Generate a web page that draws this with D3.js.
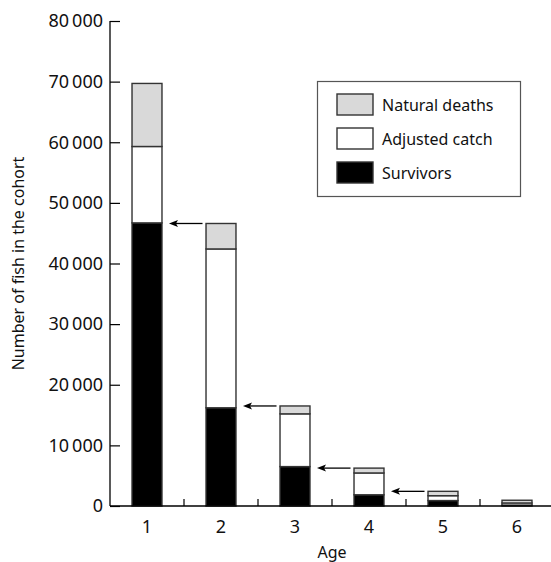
<!DOCTYPE html>
<html><head><meta charset="utf-8">
<script src="https://cdn.jsdelivr.net/npm/d3@7"></script>
<style>body{margin:0;background:#fff}svg{display:block;font-family:"Noto Sans",sans-serif}</style>
</head><body><svg id="c" width="551" height="562"></svg>
<script>
const ages = ["1","2","3","4","5","6"];
const survivors = [46700, 16200, 6500, 1850, 900, 150];
const adjustedCatch = [12600, 26200, 8700, 3600, 800, 350];
const naturalDeaths = [10400, 4200, 1300, 800, 720, 450];
const yTicks = [0,10000,20000,30000,40000,50000,60000,70000,80000];
const seriesNames = ["Natural deaths","Adjusted catch","Survivors"];
const seriesColors = ["#d9d9d9","#ffffff","#000000"];

const svg = d3.select("#c");
const m = {l:110, t:21, r:-3, b:56};
const W = 551 - m.l - m.r, H = 562 - m.t - m.b;
const x = d3.scaleBand().domain(ages).range([m.l, m.l+W]).paddingInner(0.595).paddingOuter(0.2975);
const y = d3.scaleLinear().domain([0,80000]).range([m.t+H, m.t]);

const rows = ages.map((a,i)=>({age:a, Survivors:survivors[i], "Adjusted catch":adjustedCatch[i], "Natural deaths":naturalDeaths[i]}));
const stack = d3.stack().keys(["Survivors","Adjusted catch","Natural deaths"])(rows);
const color = d3.scaleOrdinal().domain(seriesNames).range(seriesColors);

svg.append("g").selectAll("g").data(stack).join("g")
  .attr("fill", d=>color(d.key))
  .selectAll("rect").data(d=>d).join("rect")
  .attr("x", d=>x(d.data.age)).attr("width", x.bandwidth())
  .attr("y", d=>y(d[1])).attr("height", d=>y(d[0])-y(d[1]))
  .attr("stroke","#333").attr("stroke-width",1.4);

// arrows
const defs = svg.append("defs");
defs.append("marker").attr("id","ah").attr("viewBox","0 0 10 8").attr("refX",0).attr("refY",4)
  .attr("markerWidth",10).attr("markerHeight",8).attr("markerUnits","userSpaceOnUse").attr("orient","auto-start-reverse")
  .append("path").attr("d","M0,4 L10,0 L7,4 L10,8 Z").attr("fill","#000");
const totals = rows.map(r=>r.Survivors+r["Adjusted catch"]+r["Natural deaths"]);
for (let i=0;i<4;i++){
  const yy = y(totals[i+1]);
  svg.append("line")
    .attr("x1", x(ages[i+1])-3.5).attr("x2", x(ages[i])+x.bandwidth()+7)
    .attr("y1", yy).attr("y2", yy).attr("stroke","#000").attr("stroke-width",1.3)
    .attr("marker-end","url(#ah)");
}
svg.selectAll("line[marker-end]").attr("marker-end",null).attr("marker-start",null);
svg.selectAll("line").each(function(){
  const l=d3.select(this); const x2=+l.attr("x2"), yy=+l.attr("y1");
  l.attr("x2", x2+6);
  svg.append("path").attr("d",`M${x2},${yy} L${x2+9},${yy-3.5} L${x2+7},${yy} L${x2+9},${yy+3.5} Z`).attr("fill","#000");
});

// y axis
const fmt = v => v===0 ? "0" : d3.format(",")(v).replace(",", "\u2009");
const ya = svg.append("g").attr("transform",`translate(${m.l},0)`)
  .call(d3.axisRight(y).tickValues(yTicks).tickSize(10).tickFormat(fmt));
ya.select(".domain").remove();
ya.selectAll("line").attr("stroke","#000").attr("stroke-width",1.2);
ya.selectAll("text").attr("x",-7).attr("text-anchor","end").attr("font-size",18).attr("fill","#111").attr("font-family","Noto Sans");
svg.append("line").attr("x1",m.l).attr("x2",m.l).attr("y1",y(80000)).attr("y2",y(0)).attr("stroke","#000").attr("stroke-width",1.3);

// x axis
const xa = svg.append("g").attr("transform",`translate(0,${y(0)})`)
  .call(d3.axisBottom(x).tickSize(0).tickPadding(14));
xa.select(".domain").remove();
xa.selectAll("text").attr("font-size",18).attr("fill","#111").attr("font-family","Noto Sans");
svg.append("line").attr("x1",m.l).attr("x2",551).attr("y1",y(0)).attr("y2",y(0)).attr("stroke","#000").attr("stroke-width",1.3);
const step = x.step();
ages.slice(1).forEach(a=>{
  const bx = x(a) - step*x.paddingInner()/2 - x.bandwidth()*0 ;
});
const bounds = ages.slice(0,5).map(a=>x(a)+x.bandwidth()+ (step-x.bandwidth())/2);
svg.append("g").selectAll("line").data(bounds).join("line")
  .attr("x1",d=>d).attr("x2",d=>d).attr("y1",y(0)).attr("y2",y(0)-7).attr("stroke","#000").attr("stroke-width",1.2);

// axis titles
svg.append("text").attr("x",m.l+W/2).attr("y",558).attr("text-anchor","middle").attr("font-size",16).attr("fill","#111").text("Age");
svg.append("text").attr("transform",`translate(24,${(y(0)+y(80000))/2}) rotate(-90)`).attr("text-anchor","middle").attr("font-size",16).attr("fill","#111").text("Number of fish in the cohort");

// legend
const lg = svg.append("g");
lg.append("rect").attr("x",317.5).attr("y",81.5).attr("width",203).attr("height",115).attr("fill","#fff").attr("stroke","#555").attr("stroke-width",1.2);
seriesNames.forEach((s,i)=>{
  const yy = 94 + i*34;
  lg.append("rect").attr("x",337).attr("y",yy).attr("width",36).attr("height",21).attr("fill",color(s)).attr("stroke","#333").attr("stroke-width",1.4);
  lg.append("text").attr("x",382).attr("y",yy+16.5).attr("font-size",16).attr("fill","#111").text(s);
});
</script></body></html>
